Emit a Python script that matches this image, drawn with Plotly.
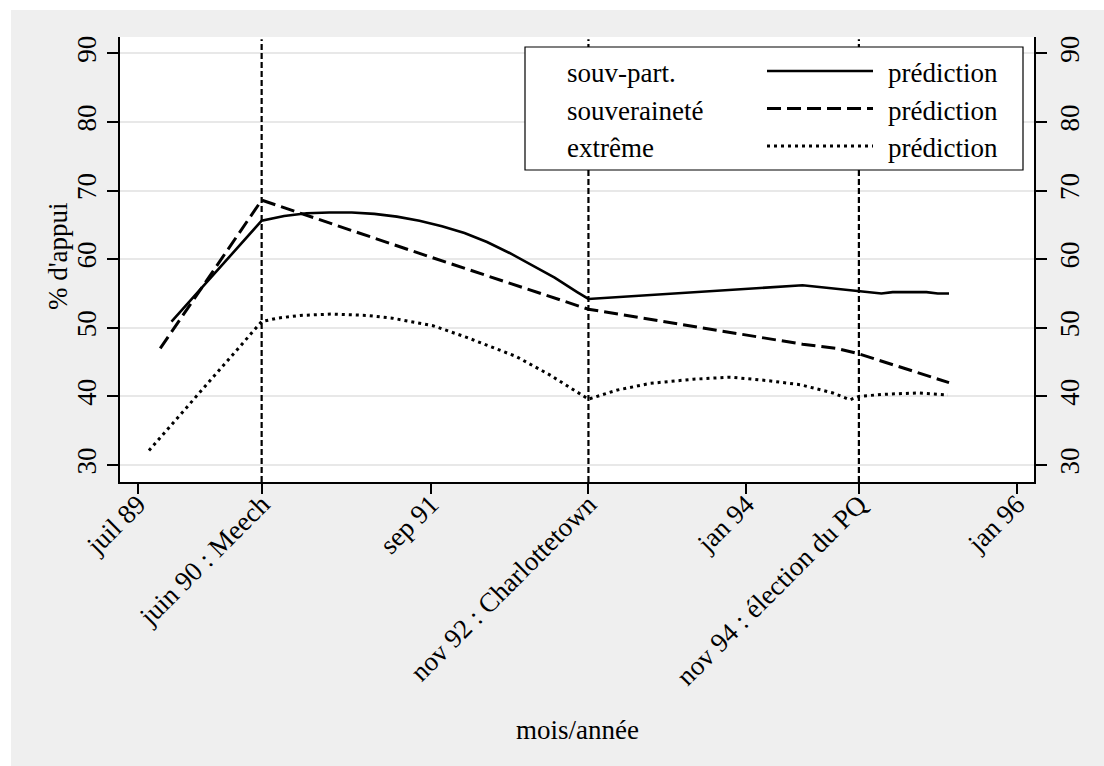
import plotly.graph_objects as go

# ---- data (Stata monthly index: 1989m7 = 354) ----
tick_months = [354, 365, 380, 394, 408, 418, 432]
tick_labels = ["juil 89", "juin 90 : Meech", "sep 91", "nov 92 : Charlottetown",
               "jan 94", "nov 94 : élection du PQ", "jan 96"]
event_months = [365, 394, 418]

souvpart_months = [357, 365, 367, 369, 371, 373, 375, 377, 379, 381, 383, 385, 387, 389,
                   391, 393, 394, 413, 418, 420, 421, 424, 425, 426]
souvpart_values = [50.9, 65.6, 66.3, 66.7, 66.8, 66.8, 66.6, 66.2, 65.6, 64.8, 63.8, 62.5,
                   60.9, 59.1, 57.3, 55.2, 54.2, 56.2, 55.4, 55.0, 55.2, 55.2, 55.0, 55.0]

souv_months = [356, 365, 380, 394, 413, 416, 418, 426]
souv_values = [47.0, 68.6, 60.3, 52.7, 47.6, 47.0, 46.2, 42.0]

extreme_months = [355, 365, 366.4, 368.4, 371.3, 374.3, 376.6, 380.2, 383.2, 386.1, 387.6,
                  390.6, 394, 396.5, 399.5, 403.3, 406.6, 409.9, 412.8, 415.7, 417.2, 418,
                  420.2, 423.2, 425.9]
extreme_values = [32.1, 50.9, 51.4, 51.8, 52.0, 51.8, 51.4, 50.3, 48.6, 46.8, 45.8,
                  43.1, 39.6, 40.9, 41.9, 42.5, 42.8, 42.3, 41.7, 40.5, 39.5, 40.0,
                  40.3, 40.5, 40.2]

legend_labels = ["souv-part.", "souveraineté", "extrême"]
legend_right = "prédiction"
x_title = "mois/année"
y_title = "% d'appui"

# ---- style ----
FONT = "Liberation Serif, Times New Roman, serif"
FS = 27
OFF = 0  # body margin removed via post_script
W, H = 1104, 766
L, R, T, B = 120, 70, 37, 284
PW, PH = W - L - R, H - T - B
BG = "#efefef"
DASHES = ["solid", "14px,6px", "3px,4px"]


def px_to_paper_x(page_px):
    return (page_px - OFF - L) / PW


def px_to_paper_y(page_py):
    return (H - B - (page_py - OFF)) / PH


fig = go.Figure()
series = [(souvpart_months, souvpart_values), (souv_months, souv_values),
          (extreme_months, extreme_values)]
for (xs, ys), dash, name in zip(series, DASHES, legend_labels):
    fig.add_trace(go.Scatter(x=xs, y=ys, mode="lines", name=name, showlegend=False,
                             line=dict(color="black", width=3 if dash != "solid" else 2.6,
                                       dash=dash)))
# trace on right axis so it is drawn
fig.add_trace(go.Scatter(x=souvpart_months, y=souvpart_values, yaxis="y2", mode="lines",
                         line=dict(width=0, color="rgba(0,0,0,0)"), showlegend=False,
                         hoverinfo="skip"))

shapes = []
# white strips outside the grey graph region (page x<11, y<10)
shapes.append(dict(type="rect", xref="paper", yref="paper", layer="below",
                   x0=px_to_paper_x(-5), x1=px_to_paper_x(11), y0=px_to_paper_y(H + 20),
                   y1=px_to_paper_y(-5), fillcolor="white", line=dict(width=0)))
shapes.append(dict(type="rect", xref="paper", yref="paper", layer="below",
                   x0=px_to_paper_x(-5), x1=px_to_paper_x(W + 20), y0=px_to_paper_y(10),
                   y1=px_to_paper_y(-5), fillcolor="white", line=dict(width=0)))
# event lines
for m in event_months:
    shapes.append(dict(type="line", xref="x", yref="paper", layer="above",
                       x0=m, x1=m, y0=0, y1=0.995,
                       line=dict(color="black", width=2.2, dash="6px,3px")))
# legend box
shapes.append(dict(type="rect", xref="paper", yref="paper", layer="above",
                   x0=px_to_paper_x(525), x1=px_to_paper_x(1023),
                   y0=px_to_paper_y(170), y1=px_to_paper_y(47),
                   fillcolor="white", line=dict(color="black", width=1.2)))
legend_rows_y = [71, 108.5, 146]
for yy, dash in zip(legend_rows_y, DASHES):
    shapes.append(dict(type="line", xref="paper", yref="paper", layer="above",
                       x0=px_to_paper_x(767), x1=px_to_paper_x(873),
                       y0=px_to_paper_y(yy), y1=px_to_paper_y(yy),
                       line=dict(color="black", width=3 if dash != "solid" else 2.6,
                                 dash=dash)))

annotations = []
for yy, lab in zip(legend_rows_y, legend_labels):
    annotations.append(dict(xref="paper", yref="paper", x=px_to_paper_x(565),
                            y=px_to_paper_y(yy + 2), xanchor="left", yanchor="middle",
                            text=lab, showarrow=False,
                            font=dict(family=FONT, size=FS, color="black")))
    annotations.append(dict(xref="paper", yref="paper", x=px_to_paper_x(886),
                            y=px_to_paper_y(yy + 2), xanchor="left", yanchor="middle",
                            text=legend_right, showarrow=False,
                            font=dict(family=FONT, size=FS, color="black")))
# axis titles
annotations.append(dict(xref="paper", yref="paper", x=0.5, y=px_to_paper_y(730),
                        xanchor="center", yanchor="middle", text=x_title,
                        showarrow=False, font=dict(family=FONT, size=FS, color="black")))
annotations.append(dict(xref="paper", yref="paper", x=px_to_paper_x(58),
                        y=px_to_paper_y(256), xanchor="center", yanchor="middle",
                        text=y_title, textangle=-90,
                        showarrow=False, font=dict(family=FONT, size=FS, color="black")))

yr = [27.52, 92.38]
common_y = dict(range=yr, tickvals=[30, 40, 50, 60, 70, 80, 90], tickangle=-90,
                ticks="outside", ticklen=11, tickwidth=1.5, tickcolor="black",
                showline=True, linecolor="black", linewidth=1.5, zeroline=False,
                tickfont=dict(family=FONT, size=FS, color="black"))

fig.update_layout(
    width=W, height=H,
    margin=dict(l=L, r=R, t=T, b=B, autoexpand=False),
    paper_bgcolor=BG, plot_bgcolor="white",
    showlegend=False,
    xaxis=dict(range=[352.43, 433.54], tickvals=tick_months, ticktext=tick_labels,
               tickangle=-45, ticks="outside", ticklen=10, tickwidth=1.5,
               tickcolor="black", showline=True, linecolor="black", linewidth=1.5,
               showgrid=False, zeroline=False, ticklabelstandoff=-16,
               tickfont=dict(family=FONT, size=FS, color="black")),
    yaxis=dict(**common_y, showgrid=True, gridcolor="#e8e8e8", gridwidth=2),
    yaxis2=dict(**common_y, overlaying="y", side="right", showgrid=False),
    shapes=shapes,
    annotations=annotations,
)

fig.write_html(
    "out.html",
    config={"displayModeBar": False},
    post_script="document.body.style.margin='0';document.documentElement.style.overflow='hidden';",
)
